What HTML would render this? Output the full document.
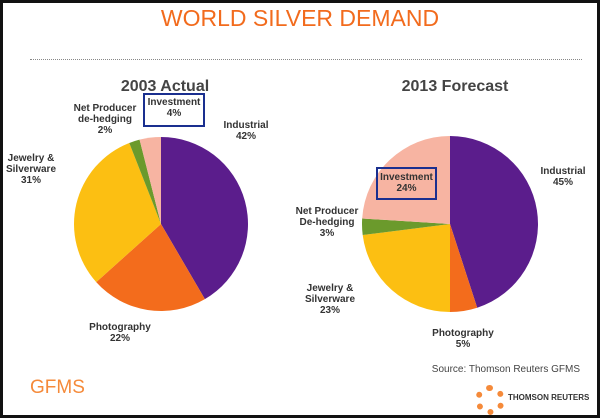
<!DOCTYPE html>
<html><head><meta charset="utf-8"><style>
body{margin:0;width:600px;height:418px;overflow:hidden;background:#fff;font-family:"Liberation Sans",sans-serif}
#frame{position:absolute;left:0;top:0;width:594px;height:412px;border:3px solid #111;background:#fff}
.t{position:absolute;font-size:10px;font-weight:bold;color:#333;text-align:center;line-height:11px}
</style></head><body>
<div id="frame"></div>
<div style="position:absolute;left:0;width:600px;top:5px;text-align:center;color:#f26b1d;font-size:23px">WORLD SILVER DEMAND</div>
<div style="position:absolute;left:30px;top:59px;width:552px;border-top:1px dotted #888"></div>
<div style="position:absolute;left:100px;top:78px;width:130px;text-align:center;font-size:16px;font-weight:bold;color:#444">2003 Actual</div>
<div style="position:absolute;left:385px;top:78px;width:140px;text-align:center;font-size:16px;font-weight:bold;color:#444">2013 Forecast</div>
<svg id="pies" width="600" height="418" style="position:absolute;left:0;top:0"></svg>
<div class="t" style="left:143px;top:93px;width:58px;height:28px;border:2px solid #1a2f8f;padding-top:2px">Investment<br>4%</div>
<div class="t" style="left:65px;top:103px;width:80px">Net Producer<br>de-hedging<br>2%</div>
<div class="t" style="left:216px;top:120px;width:60px">Industrial<br>42%</div>
<div class="t" style="left:0px;top:153px;width:62px">Jewelry &amp;<br>Silverware<br>31%</div>
<div class="t" style="left:85px;top:322px;width:70px">Photography<br>22%</div>
<div class="t" style="left:533px;top:166px;width:60px">Industrial<br>45%</div>
<div class="t" style="left:376px;top:167px;width:57px;height:26px;border:2px solid #1a2f8f;padding-top:3px">Investment<br>24%</div>
<div class="t" style="left:287px;top:206px;width:80px">Net Producer<br>De-hedging<br>3%</div>
<div class="t" style="left:298px;top:283px;width:64px">Jewelry &amp;<br>Silverware<br>23%</div>
<div class="t" style="left:428px;top:328px;width:70px">Photography<br>5%</div>
<div style="position:absolute;left:420px;top:364px;width:160px;text-align:right;font-size:10px;color:#444">Source: Thomson Reuters GFMS</div>
<div style="position:absolute;left:30px;top:377px;font-size:19px;color:#f58a3a">GFMS</div>
<div style="position:absolute;left:475px;top:385px;width:30px;height:30px;border-radius:50%;border:6px dotted #f58a3a;box-sizing:border-box"></div>
<div style="position:absolute;left:508px;top:393px;font-size:8px;font-weight:bold;color:#333">THOMSON REUTERS</div>
<script>
const categories=["Industrial","Photography","Jewelry & Silverware","Net Producer de-hedging","Investment"];
const values2003=[42,22,31,2,4];
const values2013=[45,5,23,3,24];
const colors=["#5b1d8c","#f36c1c","#fcbf12","#6b9a2c","#f7b4a2"];
const svg=document.getElementById('pies');
const NS="http://www.w3.org/2000/svg";
function pie(vals,cx,cy,r,id){
  const tot=vals.reduce((a,b)=>a+b,0);let a=0;
  vals.forEach((v,i)=>{
    const a0=a/tot*2*Math.PI,a1=(a+v)/tot*2*Math.PI;a+=v;
    const x0=cx+r*Math.sin(a0),y0=cy-r*Math.cos(a0),x1=cx+r*Math.sin(a1),y1=cy-r*Math.cos(a1);
    const p=document.createElementNS(NS,'path');
    p.setAttribute('d',`M${cx},${cy}L${x0},${y0}A${r},${r} 0 ${a1-a0>Math.PI?1:0} 1 ${x1},${y1}Z`);
    p.setAttribute('fill',colors[i]);
    
    
    svg.appendChild(p);
  });
}
pie(values2003,161,224,87,'2003');
pie(values2013,450,224,88,'2013');
</script>
</body></html>
